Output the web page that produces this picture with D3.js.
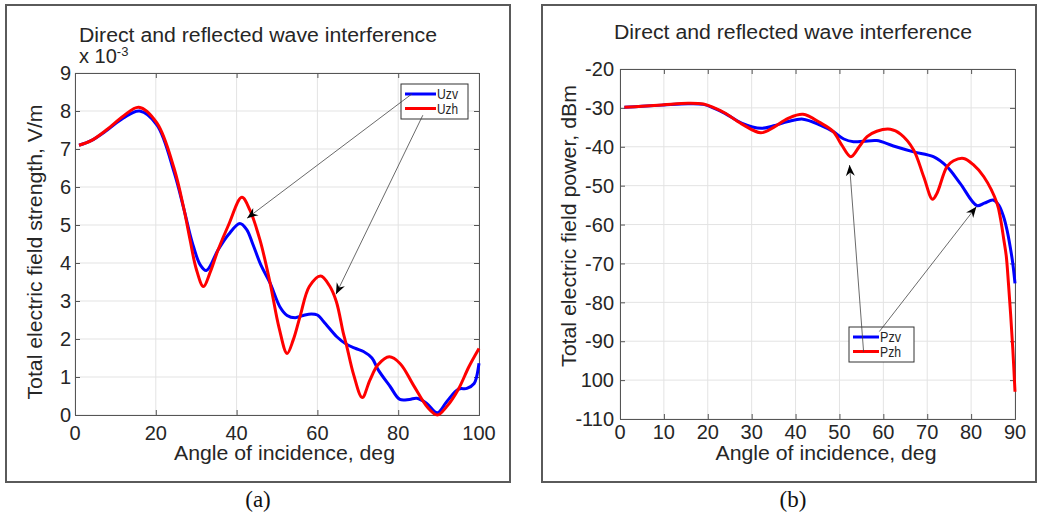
<!DOCTYPE html>
<html><head><meta charset="utf-8">
<script src="https://cdn.jsdelivr.net/npm/d3@7"></script>
<style>
html,body{margin:0;padding:0;background:#fff;}
svg text{font-family:"Liberation Sans",Arial,sans-serif;fill:#262626;}
</style></head>
<body><svg id="c" width="1039" height="515"></svg>
<script>
// ---------- data: panel (a) ----------
const uzvAngle = [1,4,8,12,16,20.3,24.5,27,29,31,32.5,35.4,38,40.8,42.5,44,46,48.3,50.7,52.5,54.5,56.5,58.5,60,62,64.8,67.2,69.5,71.4,73.5,75.1,78,80.4,82.8,84.6,87,89.7,92,94.9,97,98.8,99.4,100];
const uzv      = [7.1,7.22,7.5,7.82,8.0,7.63,6.4,5.4,4.55,3.95,3.8,4.34,4.75,5.04,4.88,4.5,3.95,3.47,2.85,2.62,2.56,2.62,2.66,2.63,2.4,2.06,1.86,1.75,1.67,1.5,1.18,0.75,0.41,0.41,0.44,0.31,0.06,0.35,0.68,0.7,0.83,1.0,1.36];
const uzhAngle = [1,4,8,12,15.8,20.3,24.5,27,28.5,30,31.8,33.4,35.4,38,41.3,43.3,45.8,48.3,50.5,52.5,54,55.7,58,60.8,63,64.7,66.4,67.2,69,71.1,73,75,77.8,80.5,83.8,87.2,89.7,92,94.9,97.5,100];
const uzh      = [7.1,7.22,7.52,7.87,8.1,7.68,6.5,5.4,4.6,3.85,3.38,3.74,4.34,5.0,5.73,5.39,4.6,3.47,2.3,1.62,1.97,2.59,3.38,3.66,3.4,2.98,2.16,1.84,1.05,0.46,0.92,1.32,1.53,1.35,0.78,0.21,0.0,0.22,0.68,1.27,1.75];
const xTicksA = [0,20,40,60,80,100];
const yTicksA = [0,1,2,3,4,5,6,7,8,9];
const yTickLabelsA = ["0","1","2","3","4","5","6","7","8","9"];
const legendA = ["Uzv","Uzh"];

// ---------- data: panel (b) ----------
const pzvAngle = [1,5,10,15.5,19,21.5,23.9,27.7,32.2,35,38.3,41.7,45.6,48.6,51,53.2,55.5,58.5,62.3,66.9,71.4,74.5,77.5,81.3,83,85,86.3,87.4,88.2,88.9,89.5,90];
const pzv      = [-29.85,-29.6,-29.26,-28.95,-29.1,-30.1,-31.4,-33.9,-35.25,-34.6,-33.5,-32.9,-34.4,-36.1,-38,-38.7,-38.6,-38.4,-39.8,-41.3,-42.55,-45.1,-49.4,-55.1,-54.5,-53.7,-55,-58,-61.5,-65.7,-70,-75.1];
const pzhAngle = [1,5,10,15.5,19,21.5,23.9,27.7,32.1,35,38.3,41.7,45.6,48.6,50.5,52.6,54.5,56.3,58.5,61.6,64,66.9,69.2,71.2,72.2,74.5,76,78.3,80.5,82.9,85.9,86.7,87.4,88,88.5,89,89.5,90];
const pzh      = [-29.85,-29.6,-29.2,-28.8,-29.0,-30.0,-31.3,-34.1,-36.4,-35,-32.7,-31.65,-33.8,-36.1,-39.5,-42.55,-40,-37.4,-36,-35.5,-36.8,-40.8,-47.7,-53.5,-52,-45.1,-43.6,-43,-44.6,-47.7,-54.5,-58.5,-63.5,-68,-75,-83,-92,-103];
const xTicksB = [0,10,20,30,40,50,60,70,80,90];
const yTicksB = [-20,-30,-40,-50,-60,-70,-80,-90,-100,-110];
const yTickLabelsB = ["-20","-30","-40","-50","-60","-70","-80","-90","100","-110"];
const legendB = ["Pzv","Pzh"];

const titleText = "Direct and reflected wave interference";
const xLabelText = "Angle of incidence, deg";
const yLabelA = "Total electric field strength, V/m";
const yLabelB = "Total electric field power, dBm";

// ---------- drawing ----------
const svg = d3.select("#c");
const defs = svg.append("defs");
defs.append("marker").attr("id","ah").attr("viewBox","-12 -6 13 12")
  .attr("refX",0).attr("refY",0).attr("markerWidth",13).attr("markerHeight",12)
  .attr("markerUnits","userSpaceOnUse").attr("orient","auto")
  .append("path").attr("d","M0,0 L-11,-4.5 L-7.5,0 L-11,4.5 Z").attr("fill","#000");

function panel(cfg){
  const g = svg.append("g");
  g.append("rect").attr("x",cfg.frame[0]).attr("y",cfg.frame[1])
    .attr("width",cfg.frame[2]-cfg.frame[0]).attr("height",cfg.frame[3]-cfg.frame[1])
    .attr("fill","none").attr("stroke","#5a5a5a").attr("stroke-width",2);
  const x = d3.scaleLinear().domain(cfg.xDom).range([cfg.L,cfg.R]);
  const y = d3.scaleLinear().domain(cfg.yDom).range([cfg.B,cfg.T]);
  g.append("g").selectAll("line").data(cfg.xTicks).join("line")
    .attr("x1",d=>x(d)).attr("x2",d=>x(d)).attr("y1",cfg.T).attr("y2",cfg.B)
    .attr("stroke","#e3e3e3").attr("stroke-width",1);
  g.append("g").selectAll("line").data(cfg.yTicks).join("line")
    .attr("y1",d=>y(d)).attr("y2",d=>y(d)).attr("x1",cfg.L).attr("x2",cfg.R)
    .attr("stroke","#e3e3e3").attr("stroke-width",1);
  const ax = [
    [d3.axisBottom(x).tickValues(cfg.xTicks).tickSize(-5).tickFormat(""), `translate(0,${cfg.B})`],
    [d3.axisTop(x).tickValues(cfg.xTicks).tickSize(-5).tickFormat(""), `translate(0,${cfg.T})`],
    [d3.axisLeft(y).tickValues(cfg.yTicks).tickSize(-5).tickFormat(""), `translate(${cfg.L},0)`],
    [d3.axisRight(y).tickValues(cfg.yTicks).tickSize(-5).tickFormat(""), `translate(${cfg.R},0)`]
  ];
  ax.forEach(([a,t])=>{
    const gg = g.append("g").attr("transform",t).call(a);
    gg.selectAll("path,line").attr("stroke","#555").attr("stroke-width",1);
  });
  g.append("g").selectAll("text").data(cfg.xTicks).join("text")
    .attr("x",d=>x(d)).attr("y",cfg.xLabY).attr("text-anchor","middle")
    .attr("font-size",20).text(d=>d);
  g.append("g").selectAll("text").data(cfg.yTicks).join("text")
    .attr("x",cfg.L-cfg.yGap).attr("y",d=>y(d)).attr("dy","0.36em").attr("text-anchor","end")
    .attr("font-size",20).text((d,i)=>cfg.yTickLabels[i]);
  const line = d3.line().x(d=>x(d[0])).y(d=>y(d[1])).curve(d3.curveCatmullRom.alpha(0.5));
  cfg.series.forEach(s=>{
    g.append("path").datum(d3.zip(s.x,s.y)).attr("d",line)
      .attr("fill","none").attr("stroke",s.color).attr("stroke-width",3).attr("stroke-linejoin","round");
  });
  g.append("text").attr("x",cfg.titleX).attr("y",cfg.titleY).attr("font-size",20)
    .attr("textLength",358).attr("lengthAdjust","spacingAndGlyphs").text(titleText);
  g.append("text").attr("x",cfg.xlabX).attr("y",460).attr("font-size",20).attr("text-anchor","middle")
    .attr("textLength",221).attr("lengthAdjust","spacingAndGlyphs").text(xLabelText);
  g.append("text").attr("transform",`translate(${cfg.ylabX},${cfg.ylabY}) rotate(-90)`)
    .attr("font-size",20).attr("text-anchor","middle")
    .attr("textLength",cfg.ylabLen).attr("lengthAdjust","spacingAndGlyphs").text(cfg.ylab);
  const lg = cfg.legend;
  g.append("rect").attr("x",lg.x).attr("y",lg.y).attr("width",lg.w).attr("height",lg.h)
    .attr("fill","#fff").attr("stroke","#333").attr("stroke-width",1);
  cfg.series.forEach((s,i)=>{
    const ly = lg.y + 10 + i*14.5;
    g.append("line").attr("x1",lg.x+4).attr("x2",lg.x+lg.lineLen).attr("y1",ly).attr("y2",ly)
      .attr("stroke",s.color).attr("stroke-width",3);
    g.append("text").attr("x",lg.x+lg.lineLen+1).attr("y",ly+5).attr("font-size",14)
      .attr("textLength",21).attr("lengthAdjust","spacingAndGlyphs").text(cfg.legendLabels[i]);
  });
  cfg.arrows.forEach(a=>{
    g.append("line").attr("x1",x(a[0])).attr("y1",y(a[1])).attr("x2",x(a[2])).attr("y2",y(a[3]))
      .attr("stroke","#444").attr("stroke-width",0.8).attr("marker-end","url(#ah)");
  });
  svg.append("text").attr("x",cfg.capX).attr("y",507).attr("text-anchor","middle")
    .style("font-family","'Liberation Serif','Times New Roman',serif").attr("font-size",23)
    .style("fill","#111").text(cfg.caption);
  return {g,x,y};
}

const A = panel({
  frame:[6,5,510,482], xDom:[0,100], yDom:[0,9], L:75, R:479, T:73, B:415,
  xTicks:xTicksA, yTicks:yTicksA, yTickLabels:yTickLabelsA, xLabY:440, yGap:4,
  series:[{x:uzvAngle,y:uzv,color:"#0000ff"},{x:uzhAngle,y:uzh,color:"#ff0000"}],
  titleX:79, titleY:42, xlabX:284.5, ylabX:42, ylabY:252, ylabLen:295, ylab:yLabelA,
  legend:{x:401,y:84,w:67,h:35,lineLen:35}, legendLabels:legendA,
  arrows:[[83.4,8.45,42.6,5.18],[86.1,7.89,64.6,3.18]],
  capX:258, caption:"(a)"
});
const ex = A.g.append("text").attr("x",79).attr("y",63).attr("font-size",20);
ex.append("tspan").text("x 10");
ex.append("tspan").attr("font-size",13).attr("dy",-7).text("-3");

panel({
  frame:[542,5,1036,482], xDom:[0,90], yDom:[-110,-20], L:620, R:1015, T:69, B:419,
  xTicks:xTicksB, yTicks:yTicksB, yTickLabels:yTickLabelsB, xLabY:439, yGap:6,
  series:[{x:pzvAngle,y:pzv,color:"#0000ff"},{x:pzhAngle,y:pzh,color:"#ff0000"}],
  titleX:614, titleY:39, xlabX:826, ylabX:576, ylabY:226, ylabLen:282, ylab:yLabelB,
  legend:{x:849,y:327,w:65,h:35,lineLen:30}, legendLabels:legendB,
  arrows:[[55.5,-92.7,52.3,-44.7],[59.1,-87.5,81.2,-55.4]],
  capX:793, caption:"(b)"
});
</script></body></html>
